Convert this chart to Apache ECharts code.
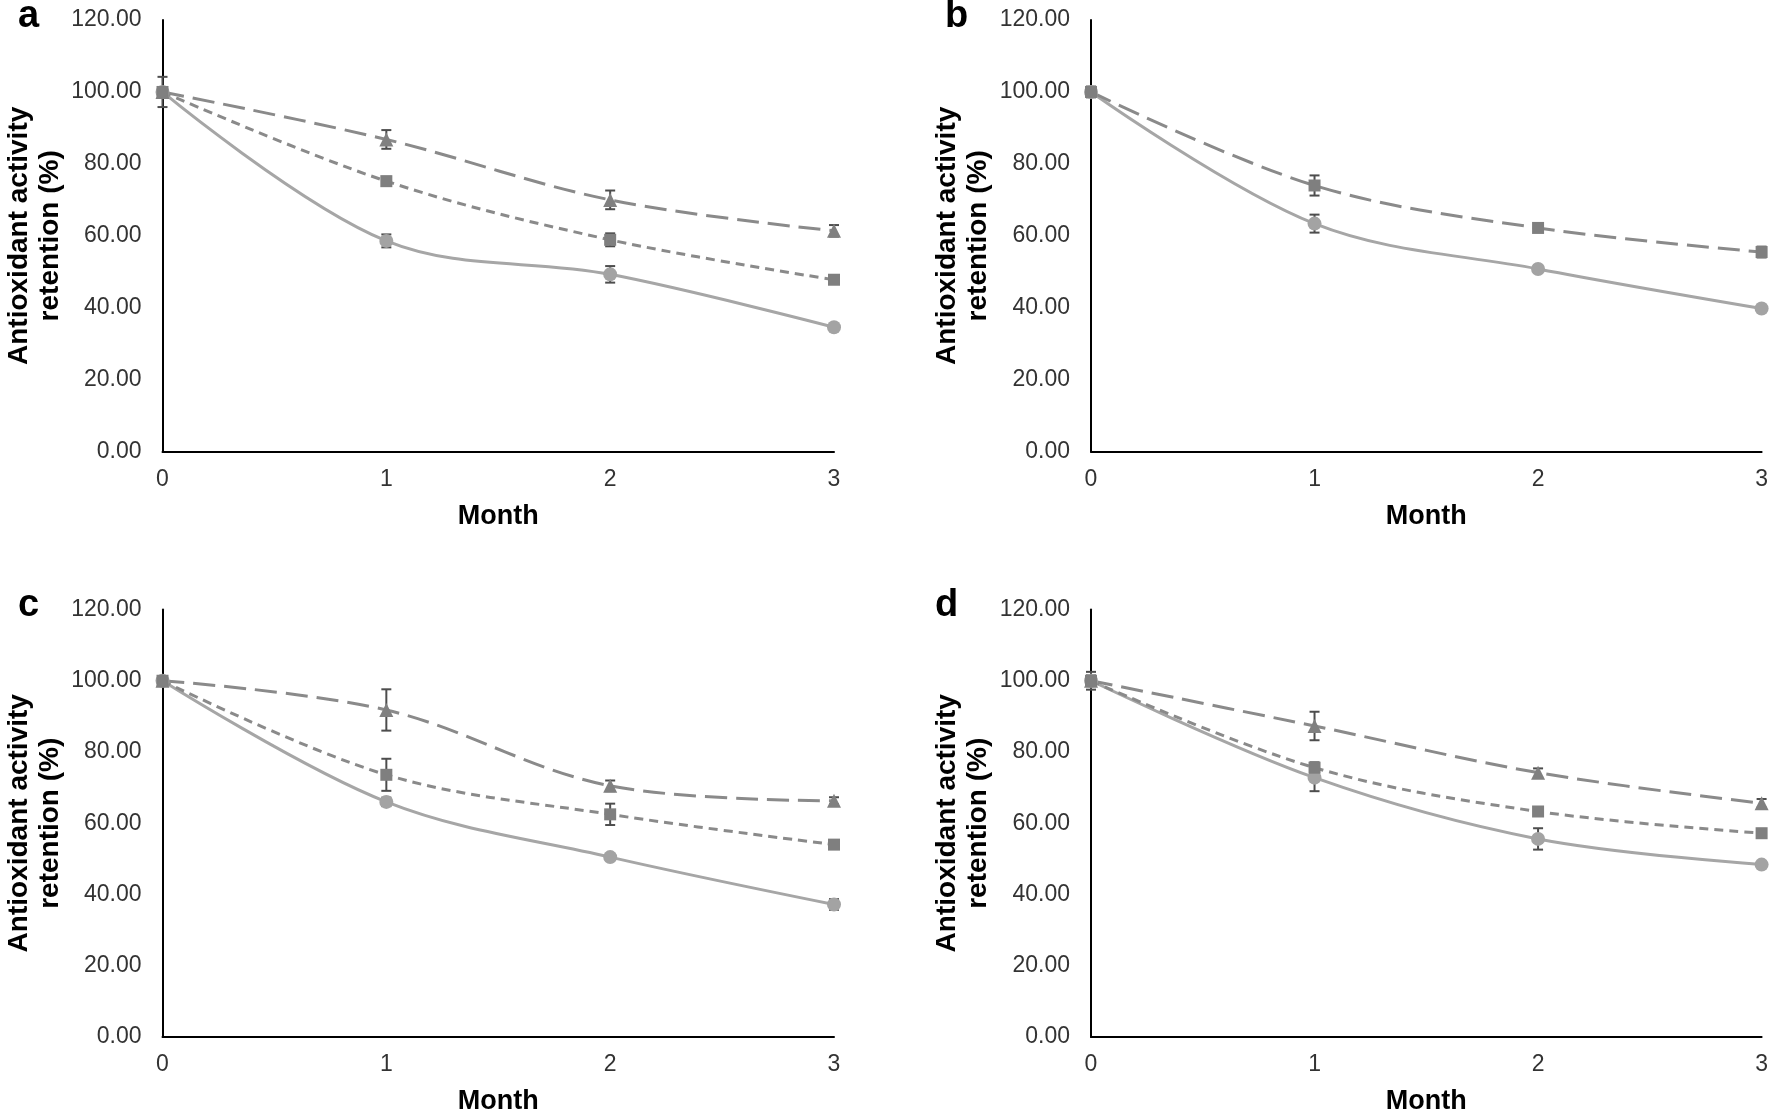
<!DOCTYPE html>
<html><head><meta charset="utf-8">
<script src="https://cdn.jsdelivr.net/npm/echarts@6/dist/echarts.min.js"></script>
<style>html,body{margin:0;padding:0;background:#fff}#c{width:1771px;height:1116px}</style>
</head><body><div id="c"></div>
<script>
const months = [0, 1, 2, 3];
const yTicks = [0, 20, 40, 60, 80, 100, 120];
const panelLetters = ['a', 'b', 'c', 'd'];

// Panel a
const aCircle = [100, 58.6, 49.3, 34.6];
const aCircleErr = [1.0, 1.8, 2.3, 0.3];
const aSquare = [100, 75.2, 58.9, 47.8];
const aSquareErr = [1.0, 1.2, 1.8, 0.3];
const aTriangle = [100, 86.8, 70.0, 61.4];
const aTriangleErr = [4.2, 2.6, 2.6, 1.6];
// Panel b
const bCircle = [100, 63.4, 50.8, 39.8];
const bCircleErr = [1.0, 2.5, 0.8, 0.3];
const bSquare = [100, 74.0, 62.2, 55.5];
const bSquareErr = [1.5, 2.8, 0.8, 1.5];
// Panel c
const cCircle = [100, 66.0, 50.5, 37.2];
const cCircleErr = [0.5, 1.2, 0.8, 1.5];
const cSquare = [100, 73.6, 62.5, 54.0];
const cSquareErr = [0.8, 4.5, 3.0, 0.3];
const cTriangle = [100, 91.8, 70.5, 66.3];
const cTriangleErr = [0.5, 5.8, 1.5, 1.0];
// Panel d
const dCircle = [100, 72.8, 55.6, 48.4];
const dCircleErr = [2.5, 3.8, 3.0, 0.3];
const dSquare = [100, 75.6, 63.3, 57.2];
const dSquareErr = [1.5, 1.5, 0.8, 1.2];
const dTriangle = [100, 87.3, 74.2, 65.6];
const dTriangleErr = [1.0, 4.0, 1.2, 1.2];

const panels = [
  {series: [['circle', aCircle, aCircleErr], ['square', aSquare, aSquareErr], ['triangle', aTriangle, aTriangleErr]]},
  {series: [['circle', bCircle, bCircleErr], ['squareLong', bSquare, bSquareErr]]},
  {series: [['circle', cCircle, cCircleErr], ['square', cSquare, cSquareErr], ['triangle', cTriangle, cTriangleErr]]},
  {series: [['circle', dCircle, dCircleErr], ['square', dSquare, dSquareErr], ['triangle', dTriangle, dTriangleErr]]}
];

const FONT = '"Liberation Sans", Arial, sans-serif';
const gridPos = [
  {left: 162.5, top: 20, width: 671.5, height: 431.7},
  {left: 1091, top: 20, width: 671.5, height: 431.7},
  {left: 162.5, top: 609.5, width: 671.5, height: 431.5},
  {left: 1091, top: 609.5, width: 671.5, height: 431.5}
];
const letterPos = [[28, 20], [955, 20], [28, 609], [945, 609]];

const styles = {
  circle: {symbol: 'circle', size: 14, mcolor: '#a3a3a3', lcolor: '#a6a6a6', type: 'solid'},
  square: {symbol: 'rect', size: 12, mcolor: '#7f7f7f', lcolor: '#8a8a8a', type: [9, 6]},
  squareLong: {symbol: 'rect', size: 12, mcolor: '#7f7f7f', lcolor: '#8a8a8a', type: [22, 9]},
  triangle: {symbol: 'triangle', size: 14, mcolor: '#808080', lcolor: '#8a8a8a', type: [22, 9]}
};

const grid = [], xAxis = [], yAxis = [], series = [], graphic = [];
panels.forEach((p, i) => {
  grid.push(Object.assign({containLabel: false}, gridPos[i]));
  xAxis.push({
    type: 'value', gridIndex: i, min: months[0], max: months[months.length - 1], interval: 1,
    name: 'Month', nameLocation: 'middle', nameGap: 51,
    nameTextStyle: {fontFamily: FONT, fontWeight: 'bold', fontSize: 27, color: '#000'},
    axisLine: {show: true, lineStyle: {color: '#000', width: 2}},
    axisTick: {show: false}, splitLine: {show: false},
    axisLabel: {fontFamily: FONT, fontSize: 23, color: '#333', margin: 16}
  });
  yAxis.push({
    type: 'value', gridIndex: i, min: yTicks[0], max: yTicks[yTicks.length - 1], interval: 20,
    name: 'Antioxidant activity\nretention (%)', nameLocation: 'middle', nameGap: 97, nameRotate: 90,
    nameTextStyle: {fontFamily: FONT, fontWeight: 'bold', fontSize: 28, color: '#000', lineHeight: 31},
    axisLine: {show: true, lineStyle: {color: '#000', width: 2}},
    axisTick: {show: false}, splitLine: {show: false},
    axisLabel: {fontFamily: FONT, fontSize: 23, color: '#333', margin: 21, formatter: v => v.toFixed(2)}
  });
  p.series.forEach(([kind, vals, errs]) => {
    const st = styles[kind];
    series.push({
      type: 'custom', xAxisIndex: i, yAxisIndex: i, z: 1, animation: false,
      data: months.map((m, k) => [m, vals[k] - errs[k], vals[k] + errs[k]]),
      renderItem: (params, api) => {
        const lo = api.coord([api.value(0), api.value(1)]);
        const hi = api.coord([api.value(0), api.value(2)]);
        const w = 5;
        const s = {stroke: '#4d4d4d', lineWidth: 2};
        return {type: 'group', children: [
          {type: 'line', shape: {x1: lo[0], y1: lo[1], x2: hi[0], y2: hi[1]}, style: s},
          {type: 'line', shape: {x1: lo[0] - w, y1: lo[1], x2: lo[0] + w, y2: lo[1]}, style: s},
          {type: 'line', shape: {x1: hi[0] - w, y1: hi[1], x2: hi[0] + w, y2: hi[1]}, style: s}
        ]};
      }
    });
    series.push({
      type: 'line', xAxisIndex: i, yAxisIndex: i, smooth: 0.35,
      data: months.map((m, k) => [m, vals[k]]),
      symbol: st.symbol, symbolSize: st.size, showAllSymbol: true,
      itemStyle: {color: st.mcolor},
      lineStyle: {color: st.lcolor, width: 3, type: st.type},
      z: 2, animation: false
    });
  });
  graphic.push({
    type: 'text', left: letterPos[i][0] - 10, top: letterPos[i][1] - 22,
    style: {text: panelLetters[i], font: 'bold 38px ' + FONT, fill: '#000'}
  });
});

const chart = echarts.init(document.getElementById('c'), null, {renderer: 'canvas'});
chart.setOption({animation: false, grid, xAxis, yAxis, series, graphic});
</script>
</body></html>
